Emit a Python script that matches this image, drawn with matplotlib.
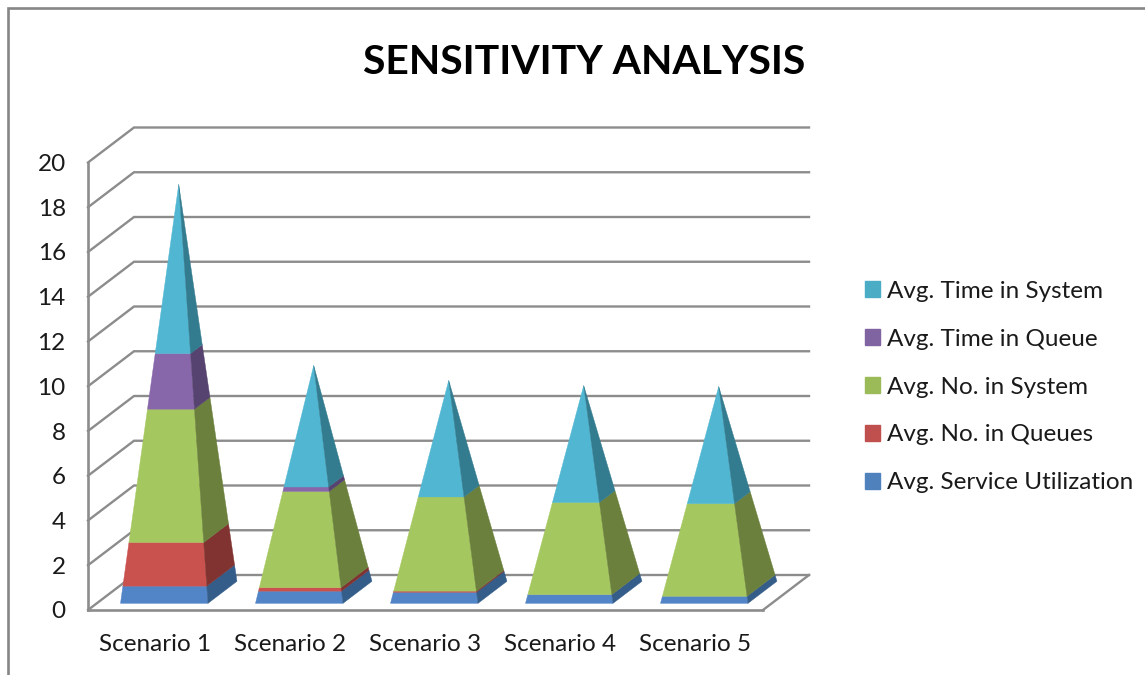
import matplotlib
matplotlib.use("Agg")
import matplotlib.pyplot as plt
from matplotlib.lines import Line2D
from matplotlib.patches import Patch, Polygon

# ---- data ----
scenarios = ["Scenario 1", "Scenario 2", "Scenario 3", "Scenario 4", "Scenario 5"]
service_utilization = [0.75, 0.52, 0.47, 0.37, 0.30]
no_in_queues = [1.90, 0.15, 0.05, 0.0, 0.0]
no_in_system = [5.80, 4.10, 4.00, 3.91, 3.93]
time_in_queue = [2.42, 0.19, 0.0, 0.0, 0.0]
time_in_system = [7.36, 5.18, 4.95, 4.96, 4.97]
y_ticks = list(range(0, 21, 2))

series = [
    ("Avg. Service Utilization", service_utilization, "#5185C8", "#355D8A", "#4F81BD"),
    ("Avg. No. in Queues", no_in_queues, "#C9524F", "#803330", "#C0504D"),
    ("Avg. No. in System", no_in_system, "#A5C75F", "#6B803C", "#9BBB59"),
    ("Avg. Time in Queue", time_in_queue, "#8866AA", "#56436F", "#8064A2"),
    ("Avg. Time in System", time_in_system, "#50B6D2", "#337B8E", "#4BACC6"),
]

# ---- layout ----
W, H_PX = 1145, 675
LEFT, RIGHT, BOTTOM, TOP = 88, 763, 610, 162.5
GRID = "#8C8C8C"
FONT = "Lato"

fig = plt.figure(figsize=(W / 100, H_PX / 100), dpi=100, facecolor="white")
ax = fig.add_axes([LEFT / W, 1 - BOTTOM / H_PX, (RIGHT - LEFT) / W, (BOTTOM - TOP) / H_PX])
ax.set_xlim(0, len(scenarios))
ax.set_ylim(0, 20)
ax.patch.set_visible(False)

# oblique projection: depth 1 = the back wall
DX = 46 / ((RIGHT - LEFT) / len(scenarios))
DY = 35 / ((BOTTOM - TOP) / 20)


def proj(x, v, d):
    return x + DX * d, v + DY * d


# walls and floor
for v in y_ticks:
    ax.plot([0, DX, len(scenarios) + DX], [v, v + DY, v + DY], color=GRID, lw=1.7,
            clip_on=False, zorder=1, solid_joinstyle="miter")
ax.plot([len(scenarios), len(scenarios) + DX], [0, DY], color=GRID, lw=1.7, clip_on=False, zorder=1)
for name in ("top", "right"):
    ax.spines[name].set_visible(False)
for name in ("left", "bottom"):
    ax.spines[name].set_color(GRID)
    ax.spines[name].set_linewidth(1.9)
    ax.spines[name].set_zorder(1)

# pyramids
HALF = 0.324
D_NEAR, D_FAR = 0.19, 0.82
D_MID = (D_NEAR + D_FAR) / 2
for i in range(len(scenarios)):
    total = sum(s[1][i] for s in series)
    cx = i + 0.5
    low = 0.0

    def corners(v):
        t = v / total
        half = HALF * (1 - t)
        near = D_NEAR + (D_MID - D_NEAR) * t
        far = D_FAR - (D_FAR - D_MID) * t
        return (proj(cx - half, v, near), proj(cx + half, v, near), proj(cx + half, v, far))

    for _, vals, front, side, _ in series:
        if vals[i] <= 0:
            continue
        high = low + vals[i]
        a, b, c = corners(low)
        p, q, r = corners(high)
        ax.add_patch(Polygon([a, b, q, p], closed=True, facecolor=front, edgecolor=front,
                             lw=0.3, clip_on=False, zorder=3))
        ax.add_patch(Polygon([b, c, r, q], closed=True, facecolor=side, edgecolor=side,
                             lw=0.3, clip_on=False, zorder=3))
        low = high

# axes text
ax.set_xticks([i + 0.5 for i in range(len(scenarios))], scenarios)
ax.set_yticks(y_ticks, [str(v) for v in y_ticks])
ax.tick_params(axis="x", length=0, pad=17.5, labelsize=17.5, labelcolor="#1a1a1a")
ax.tick_params(axis="y", length=0, pad=16, labelsize=17.5, labelcolor="#1a1a1a")
for lab in ax.get_xticklabels() + ax.get_yticklabels():
    lab.set_fontfamily(FONT)

fig.text(584 / W, 1 - 63 / H_PX, "SENSITIVITY ANALYSIS", ha="center", va="center",
         fontsize=29.4, fontweight="bold", family=FONT, color="black")

# legend (top series first)
handles = [Patch(facecolor=s[4], edgecolor=s[4], label=s[0]) for s in reversed(series)]
leg = fig.legend(handles=handles, loc="center left",
                 bbox_to_anchor=(865 / W, 1 - 387 / H_PX), borderaxespad=0, borderpad=0,
                 frameon=False, prop={"family": FONT, "size": 17.5},
                 handlelength=0.62, handleheight=0.62, handletextpad=0.29, labelspacing=1.107)
for t in leg.get_texts():
    t.set_color("#1a1a1a")

# chart frame, cropped at the right and bottom of the picture
fig.add_artist(Line2D([8 / W, 8 / W, 1], [0, 1 - 8 / H_PX, 1 - 8 / H_PX],
                      color="#868686", lw=1.9, transform=fig.transFigure, solid_joinstyle="miter"))

fig.savefig("out.png", dpi=100, facecolor="white")
